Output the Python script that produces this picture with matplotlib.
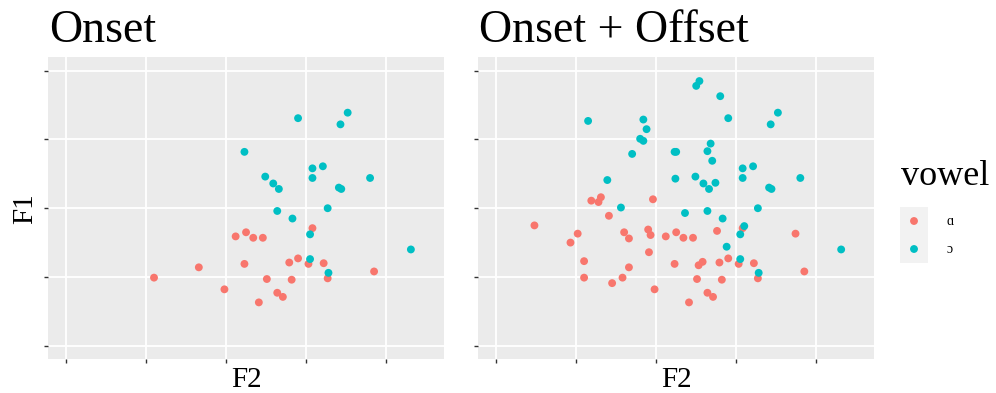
import matplotlib
matplotlib.use("Agg")
import matplotlib.pyplot as plt

plt.rcParams['font.family'] = ['Liberation Serif', 'DejaVu Serif']

# F2 / F1 positions in grid units
onset_a_f2 = [3.08, 2.12, 2.25, 2.34, 2.46, 1.10, 1.66, 2.23, 1.98, 2.51,
              2.41, 2.64, 2.71, 2.82, 2.79, 2.90, 3.03, 3.22, 3.27, 3.85]
onset_a_f1 = [1.71, 1.59, 1.65, 1.57, 1.57, 0.99, 1.14, 1.19, 0.82, 0.97,
              0.63, 0.77, 0.71, 0.96, 1.21, 1.27, 1.19, 1.20, 0.98, 1.08]
onset_o_f2 = [2.90, 3.52, 3.43, 2.23, 3.08, 3.21, 3.08, 2.49, 2.59, 2.66,
              3.80, 3.41, 3.44, 3.27, 2.64, 2.83, 3.05, 3.05, 3.28, 4.31]
onset_o_f1 = [3.31, 3.39, 3.22, 2.82, 2.58, 2.61, 2.44, 2.46, 2.36, 2.28,
              2.44, 2.30, 2.28, 2.00, 1.96, 1.85, 1.62, 1.26, 1.06, 1.40]

offset_a_f2 = [1.96, 1.19, 1.31, 1.28, 1.41, 0.48, 1.02, 0.93, 1.60, 1.66,
               1.90, 1.93, 1.91, 2.76, 3.74, 1.10, 1.45, 1.58, 2.53, 2.58]
offset_a_f1 = [2.13, 2.11, 2.16, 2.09, 1.89, 1.75, 1.63, 1.50, 1.65, 1.56,
               1.69, 1.61, 1.36, 1.67, 1.63, 1.23, 0.91, 0.99, 1.17, 1.22]
offset_o_f2 = [2.54, 2.50, 2.80, 1.15, 1.84, 1.88, 1.80, 1.84, 1.70, 2.25,
               2.68, 2.64, 2.70, 2.24, 2.74, 1.39, 1.56, 2.36, 2.88, 3.10]
offset_o_f1 = [3.85, 3.78, 3.63, 3.27, 3.29, 3.15, 3.01, 2.98, 2.79, 2.82,
               2.94, 2.83, 2.69, 2.43, 2.37, 2.41, 2.01, 1.93, 1.44, 1.74]

titles = ["Onset", "Onset + Offset"]
vowels = ["ɑ", "ɔ"]
colors = ["#F8766D", "#00BFC4"]

W, H = 996, 393
fig = plt.figure(figsize=(W / 100, H / 100), dpi=100)


def px_axes(x0, y0, x1, y1):
    return fig.add_axes([x0 / W, 1 - y1 / H, (x1 - x0) / W, (y1 - y0) / H])


panels = [
    (px_axes(48.3, 57, 443.7, 359.3),
     [(onset_a_f2, onset_a_f1), (onset_o_f2, onset_o_f1)]),
    (px_axes(478.3, 57, 874, 359.3),
     [(onset_a_f2 + offset_a_f2, onset_a_f1 + offset_a_f1),
      (onset_o_f2 + offset_o_f2, onset_o_f1 + offset_o_f1)]),
]

for i, (ax, series) in enumerate(panels):
    ax.set_facecolor("#EBEBEB")
    for s in ax.spines.values():
        s.set_visible(False)
    ax.set_xlim(-0.221, 4.72)
    ax.set_ylim(-0.198, 4.2)
    ax.set_xticks(range(5))
    ax.set_yticks(range(5))
    ax.set_xticklabels([])
    ax.set_yticklabels([])
    ax.tick_params(length=3, width=1, color="#333333")
    ax.grid(True, color="white", lw=1.3)
    ax.set_axisbelow(True)
    for (xs, ys), c in zip(series, colors):
        ax.scatter(xs, ys, s=32, color=c, edgecolors="none", zorder=3)
    ax.set_xlabel("F2", fontsize=21, labelpad=-1)
    if i == 0:
        ax.set_ylabel("F1", fontsize=21, labelpad=1)
    ax.set_title(titles[i], fontsize=33, loc="left", pad=11, x=0.002)

# legend
fig.text(901 / W, 1 - 185 / H, "vowel", fontsize=26, ha="left", va="baseline")
lax = px_axes(900, 207, 928, 263)
lax.set_facecolor("#F2F2F2")
lax.set_xlim(0, 1)
lax.set_ylim(-0.5, 1.5)
lax.set_xticks([])
lax.set_yticks([])
for s in lax.spines.values():
    s.set_visible(False)
for k, (v, c) in enumerate(zip(vowels, colors)):
    lax.scatter([0.5], [1 - k], s=32, color=c, edgecolors="none")
    lax.text(1.65, 1 - k, v, fontsize=10, va="center", ha="left",
             transform=lax.transData, clip_on=False)

fig.savefig("out.png", dpi=100)
